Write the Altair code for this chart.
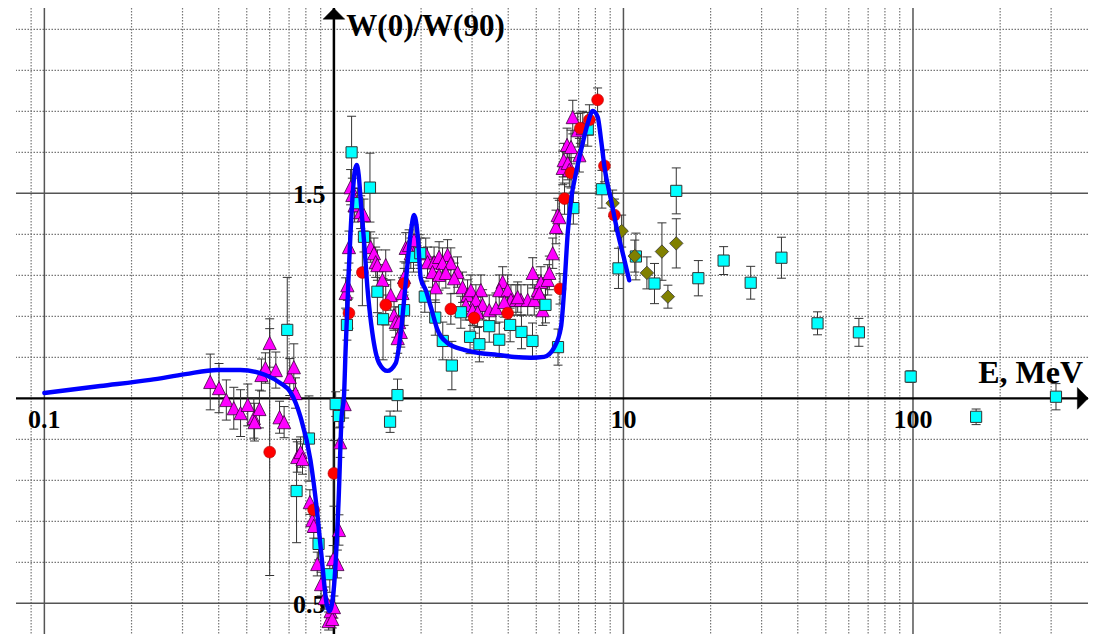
import altair as alt
import pandas as pd

# ---------------- data ----------------
# magenta triangles
tri_E = [0.374, 0.401, 0.425, 0.451, 0.476, 0.504, 0.529, 0.532, 0.553, 0.562,
         0.580, 0.600, 0.630, 0.649, 0.673, 0.704, 0.727, 0.737, 0.747, 0.767,
         0.779, 0.826, 0.842, 0.852, 0.876, 0.903, 0.929, 0.959, 0.974, 0.987,
         1.000, 0.994, 1.028, 1.041, 1.051, 1.089, 1.098, 1.113, 1.127, 1.142,
         1.158, 1.179, 1.237, 1.270, 1.340, 1.375, 1.394, 1.413, 1.510, 1.471,
         1.571, 1.613, 1.635, 1.679, 1.702, 1.661, 1.725, 1.747, 1.770, 1.818,
         1.891, 1.968, 1.843, 2.076, 2.105, 2.218, 2.308, 2.469, 2.372, 2.534,
         2.190, 2.308, 2.435, 2.673, 2.602, 2.782, 2.248, 2.895, 2.972, 3.218,
         3.093, 3.263, 2.856, 3.012, 3.135, 3.439, 3.627, 3.826, 3.724, 3.981,
         4.087, 4.253, 4.426, 4.669, 4.920, 5.056, 4.859, 5.190, 5.475, 5.698,
         3.875, 4.312, 5.121, 5.261, 5.545, 5.848, 5.929, 6.005, 6.170, 6.220,
         6.386, 6.421, 6.503, 6.592, 6.682, 6.953, 7.236, 7.043]
tri_W = [1.040, 1.025, 0.996, 0.976, 0.964, 0.984, 0.952, 0.942, 0.974, 1.057,
         1.074, 1.135, 1.069, 0.954, 0.942, 1.052, 1.076, 1.013, 0.857, 0.869,
         0.852, 0.747, 0.703, 0.689, 0.596, 0.547, 0.513, 0.457, 0.481, 0.462,
         0.491, 0.608, 0.596, 0.679, 0.893, 0.986, 1.257, 1.276, 1.369, 1.515,
         1.496, 1.471, 1.454, 1.447, 1.369, 1.354, 1.332, 1.325, 1.325, 1.289,
         1.252, 1.203, 1.186, 1.186, 1.162, 1.147, 1.257, 1.296, 1.367, 1.374,
         1.386, 1.362, 1.354, 1.354, 1.332, 1.332, 1.345, 1.350, 1.330, 1.330,
         1.308, 1.301, 1.306, 1.308, 1.293, 1.271, 1.271, 1.252, 1.264, 1.264,
         1.240, 1.228, 1.228, 1.215, 1.210, 1.215, 1.220, 1.284, 1.264, 1.264,
         1.240, 1.240, 1.240, 1.240, 1.240, 1.264, 1.306, 1.284, 1.289, 1.354,
         1.235, 1.247, 1.257, 1.215, 1.306, 1.418, 1.447, 1.442, 1.562, 1.581,
         1.618, 1.574, 1.557, 1.613, 1.686, 1.654, 1.659, 1.593]
tri_err = [0.068, 0.060, 0.049, 0.051, 0.057, 0.051, 0.049, 0.046, 0.046, 0.039,
           0.037, 0.059, 0.044, 0.039, 0.038, 0.045, 0.057, 0.037, 0.037, 0.037,
           0.037, 0.030, 0.030, 0.030, 0.029, 0.029, 0.027, 0.022, 0.027, 0.022,
           0.027, 0.033, 0.034, 0.037, 0.037, 0.034, 0.037, 0.037, 0.039, 0.043,
           0.041, 0.041, 0.040, 0.039, 0.037, 0.037, 0.037, 0.037, 0.037, 0.037,
           0.037, 0.037, 0.037, 0.037, 0.037, 0.037, 0.037, 0.037, 0.037, 0.037,
           0.037, 0.037, 0.037, 0.037, 0.037, 0.037, 0.037, 0.037, 0.037, 0.037,
           0.037, 0.037, 0.037, 0.037, 0.037, 0.037, 0.037, 0.037, 0.037, 0.037,
           0.037, 0.037, 0.037, 0.037, 0.037, 0.037, 0.037, 0.037, 0.037, 0.037,
           0.037, 0.037, 0.037, 0.037, 0.037, 0.037, 0.037, 0.037, 0.037, 0.037,
           0.037, 0.037, 0.037, 0.037, 0.041, 0.041, 0.041, 0.041, 0.041, 0.041,
           0.041, 0.041, 0.041, 0.041, 0.041, 0.041, 0.041, 0.041]

# cyan squares
sq_E = [0.690, 0.820, 0.743, 0.885, 0.968, 1.014, 1.041, 1.109, 1.151, 1.205,
        1.270, 1.332, 1.413, 1.478, 1.563, 1.658, 1.747, 1.883, 1.987, 2.060,
        2.239, 2.377, 2.555, 2.744, 2.953, 3.180, 3.439, 3.724, 4.061, 4.444,
        4.851, 5.380, 5.943, 6.714, 7.530, 8.426, 9.610, 11.04, 12.80, 15.22,
        18.14, 22.18, 27.51, 35.13, 46.80, 65.03, 98.2, 165.2, 311.8]
sq_W = [1.167, 0.902, 0.774, 0.645, 0.571, 0.986, 0.957, 1.179, 1.600, 1.476,
        1.394, 1.514, 1.260, 1.193, 0.943, 1.008, 1.215, 1.345, 1.354, 1.248,
        1.197, 1.140, 1.080, 1.210, 1.150, 1.132, 1.176, 1.143, 1.179, 1.162,
        1.140, 1.228, 1.125, 1.464, 1.656, 1.510, 1.317, 1.346, 1.280, 1.506,
        1.293, 1.336, 1.282, 1.343, 1.183, 1.161, 1.053, 0.955, 1.004]
sq_err = [0.128, 0.104, 0.126, 0.039, 0.044, 0.030, 0.029, 0.037, 0.088, 0.037,
          0.037, 0.084, 0.051, 0.099, 0.026, 0.039, 0.037, 0.037, 0.037, 0.038,
          0.043, 0.046, 0.059, 0.039, 0.041, 0.043, 0.039, 0.043, 0.041, 0.041,
          0.044, 0.044, 0.044, 0.039, 0.041, 0.046, 0.049, 0.057, 0.049, 0.056,
          0.043, 0.034, 0.040, 0.050, 0.028, 0.034, 0.014, 0.019, 0.032]

# red circles
ci_E = [0.600, 0.851, 1.000, 1.127, 1.254, 1.510, 1.747, 2.534, 3.050, 3.981,
        6.039, 6.259, 6.592, 7.099, 7.627, 8.141, 8.596, 9.308]
ci_W = [0.869, 0.728, 0.817, 1.208, 1.307, 1.228, 1.280, 1.218, 1.196, 1.208,
        1.267, 1.487, 1.550, 1.659, 1.679, 1.728, 1.567, 1.447]
ci_err = [0.301, 0.015, 0.080, 0.037, 0.081, 0.049, 0.037, 0.037, 0.037, 0.037,
          0.037, 0.038, 0.037, 0.037, 0.037, 0.029, 0.039, 0.039]

# olive diamonds
di_E = [9.176, 9.858, 10.94, 12.05, 13.58, 14.24, 15.22]
di_W = [1.476, 1.408, 1.347, 1.306, 1.358, 1.248, 1.378]
di_err = [0.032, 0.039, 0.039, 0.039, 0.070, 0.028, 0.060]

# blue theory curve
cur_E = [0.100, 0.156, 0.232, 0.307, 0.396, 0.475, 0.580, 0.654, 0.708, 0.767,
         0.830, 0.879, 0.914, 0.943, 0.966, 0.998, 1.038, 1.063, 1.083, 1.098,
         1.127, 1.158, 1.179, 1.198, 1.218, 1.237, 1.270, 1.305, 1.358, 1.432,
         1.530, 1.635, 1.701, 1.770, 1.842, 1.891, 1.917, 1.953, 1.995, 2.076,
         2.161, 2.279, 2.468, 2.817, 3.219, 3.675, 4.197, 4.793, 5.317, 5.756,
         6.087, 6.250, 6.420, 6.593, 6.858, 7.236, 7.530, 7.838, 8.150, 8.370,
         8.600, 9.060, 9.560, 10.08, 10.47]
cur_W = [1.013, 1.030, 1.045, 1.059, 1.069, 1.069, 1.057, 1.037, 1.015, 0.954,
         0.849, 0.710, 0.588, 0.500, 0.481, 0.532, 0.752, 0.954, 1.003, 1.123,
         1.320, 1.484, 1.552, 1.569, 1.545, 1.484, 1.386, 1.271, 1.159, 1.086,
         1.067, 1.086, 1.159, 1.281, 1.403, 1.447, 1.435, 1.386, 1.293, 1.264,
         1.223, 1.167, 1.135, 1.118, 1.110, 1.106, 1.101, 1.099, 1.101, 1.123,
         1.174, 1.272, 1.403, 1.484, 1.550, 1.623, 1.671, 1.701, 1.686, 1.630,
         1.564, 1.484, 1.403, 1.337, 1.288]

# grid and labels
grid_x_minor = [0.09, 0.2, 0.3, 0.4, 0.5, 0.6, 0.7, 0.8, 0.9,
                2, 3, 4, 5, 6, 7, 8, 9,
                20, 30, 40, 50, 60, 70, 80, 90, 200, 300]
grid_x_major = [0.1, 10, 100]
grid_y_minor = [0.6, 0.7, 0.8, 0.9, 1.1, 1.2, 1.3, 1.4, 1.6, 1.7, 1.8, 1.9]
grid_y_major = [0.5, 1.5]
x_tick_labels = ["0.1", "10", "100"]
x_tick_values = [0.1, 10, 100]
y_tick_labels = ["1.5", "0.5"]
y_tick_values = [1.5, 0.5]

X_DOMAIN = [0.0798, 402.2]
Y_DOMAIN = [0.4253, 1.952]
xs = alt.Scale(type="log", domain=X_DOMAIN, nice=False)
ys = alt.Scale(domain=Y_DOMAIN, nice=False, zero=False)


def X(f):
    return alt.X(f, type="quantitative", scale=xs, axis=None)


def Y(f):
    return alt.Y(f, type="quantitative", scale=ys, axis=None)


def series(E, W, err):
    df = pd.DataFrame({"E": E, "W": W, "err": err})
    df["lo"] = df["W"] - df["err"]
    df["hi"] = df["W"] + df["err"]
    return df


tri = series(tri_E, tri_W, tri_err)
sq = series(sq_E, sq_W, sq_err)
ci = series(ci_E, ci_W, ci_err)
di = series(di_E, di_W, di_err)
cur = pd.DataFrame({"E": cur_E, "W": cur_W, "i": range(len(cur_E))})

SERIF = "Liberation Serif"
ERR = "#333333"

layers = []
# grid
layers.append(alt.Chart(pd.DataFrame({"E": grid_x_minor})).mark_rule(
    color="#777777", strokeWidth=1.2, strokeDash=[1.5, 1.5]).encode(x=X("E")))
layers.append(alt.Chart(pd.DataFrame({"W": grid_y_minor})).mark_rule(
    color="#777777", strokeWidth=1.2, strokeDash=[1.5, 1.5]).encode(y=Y("W")))
layers.append(alt.Chart(pd.DataFrame({"E": grid_x_major})).mark_rule(
    color="#555555", strokeWidth=1.5).encode(x=X("E")))
layers.append(alt.Chart(pd.DataFrame({"W": grid_y_major})).mark_rule(
    color="#555555", strokeWidth=1.5).encode(y=Y("W")))
# main axes crossing at (1, 1)
layers.append(alt.Chart(pd.DataFrame({"E": [1.0]})).mark_rule(
    color="black", strokeWidth=2.5).encode(x=X("E")))
layers.append(alt.Chart(pd.DataFrame({"W": [1.0]})).mark_rule(
    color="black", strokeWidth=2.3).encode(y=Y("W")))

# tick labels and titles
layers.append(alt.Chart(pd.DataFrame({"E": x_tick_values, "W": [0.9276] * 3, "t": x_tick_labels}))
              .mark_text(font=SERIF, fontWeight="bold", fontSize=26, align="center",
                         baseline="alphabetic", color="black")
              .encode(x=X("E"), y=Y("W"), text="t:N"))
layers.append(alt.Chart(pd.DataFrame({"E": [0.936, 0.936], "W": [1.476, 0.4763], "t": y_tick_labels}))
              .mark_text(font=SERIF, fontWeight="bold", fontSize=26, align="right",
                         baseline="alphabetic", color="black")
              .encode(x=X("E"), y=Y("W"), text="t:N"))
layers.append(alt.Chart(pd.DataFrame({"E": [1.104], "W": [1.884], "t": ["W(0)/W(90)"]}))
              .mark_text(font=SERIF, fontWeight="bold", fontSize=31, align="left",
                         baseline="alphabetic", color="black")
              .encode(x=X("E"), y=Y("W"), text="t:N"))
layers.append(alt.Chart(pd.DataFrame({"E": [168.0], "W": [1.037], "t": ["E, MeV"]}))
              .mark_text(font=SERIF, fontWeight="bold", fontSize=32, align="left",
                         baseline="alphabetic", color="black")
              .encode(x=X("E"), y=Y("W"), text="t:N"))

# error bars
for df in (tri, sq, ci, di):
    layers.append(alt.Chart(df).mark_rule(color=ERR, strokeWidth=1)
                  .encode(x=X("E"), y=Y("lo"), y2="hi"))
    for col in ("lo", "hi"):
        layers.append(alt.Chart(df).mark_tick(color=ERR, orient="horizontal", size=9,
                                              thickness=1, opacity=1)
                      .encode(x=X("E"), y=Y(col)))

# markers
layers.append(alt.Chart(tri).mark_point(shape="M0,-1L1,1L-1,1Z", filled=True, fill="#FF00FF",
                                        stroke="#3a003a", strokeWidth=0.8, size=175, opacity=1)
              .encode(x=X("E"), y=Y("W")))
layers.append(alt.Chart(sq).mark_point(shape="square", filled=True, fill="#00FFFF",
                                       stroke="#333333", strokeWidth=1, size=125, opacity=1)
              .encode(x=X("E"), y=Y("W")))
layers.append(alt.Chart(ci).mark_point(shape="circle", filled=True, fill="#FF0000",
                                       stroke="#B00000", strokeWidth=0.6, size=140, opacity=1)
              .encode(x=X("E"), y=Y("W")))
layers.append(alt.Chart(di).mark_point(shape="diamond", filled=True, fill="#808000",
                                       stroke="#333333", strokeWidth=0.8, size=180, opacity=1)
              .encode(x=X("E"), y=Y("W")))

# theory curve
layers.append(alt.Chart(cur).mark_line(color="#0000FF", strokeWidth=4.4, interpolate="monotone",
                                       strokeCap="round", strokeJoin="round")
              .encode(x=X("E"), y=Y("W"), order="i:Q"))

# arrow heads at the axis ends
layers.append(alt.Chart(pd.DataFrame({"E": [1.0], "W": [1.938]})).mark_point(
    shape="M0,-0.5L1,0.5L-1,0.5Z", filled=True, fill="black", stroke="black",
    strokeWidth=0.5, size=470, opacity=1).encode(x=X("E"), y=Y("W")))
layers.append(alt.Chart(pd.DataFrame({"E": [385.9], "W": [1.0]})).mark_point(
    shape="M0.5,0L-0.5,-1L-0.5,1Z", filled=True, fill="black", stroke="black",
    strokeWidth=0.5, size=470, opacity=1).encode(x=X("E"), y=Y("W")))

chart = alt.layer(*layers).properties(
    width=1072, height=626,
    padding={"left": 8, "right": 8, "top": 0, "bottom": 0},
    autosize=alt.AutoSizeParams(type="none"),
    background="white",
).configure_view(stroke=None)

chart.save("out.html", embed_options={"renderer": "svg", "actions": False})
